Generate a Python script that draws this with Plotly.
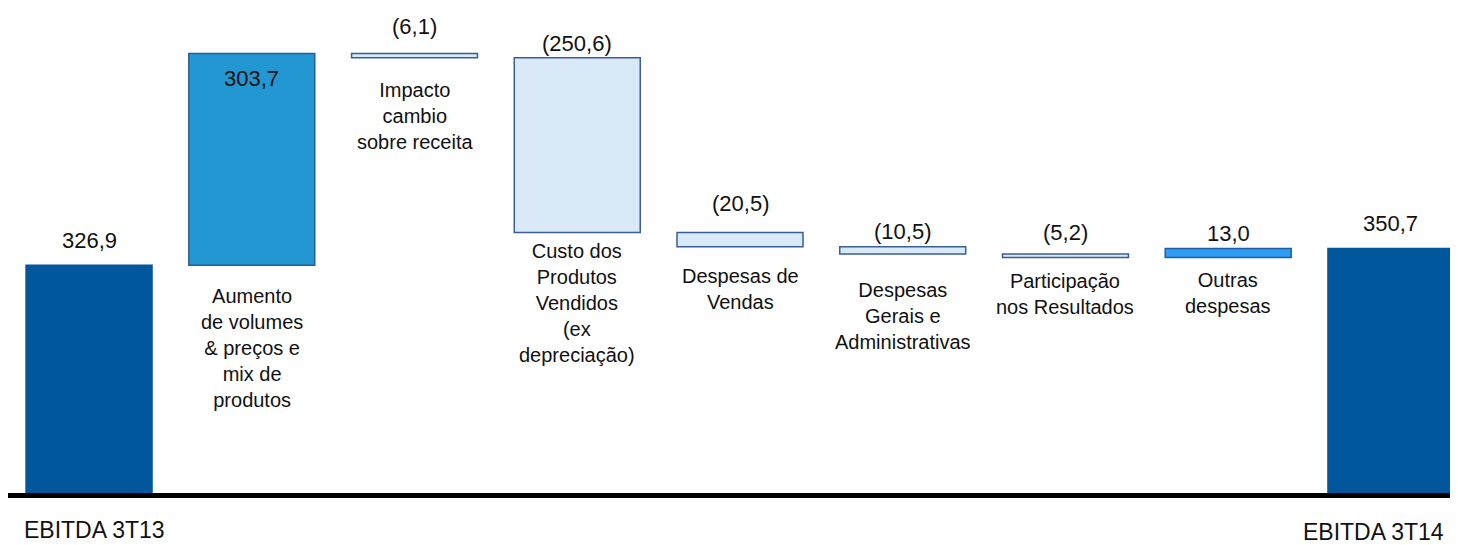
import plotly.graph_objects as go

# ---------------- data ----------------
categories = [
    "EBITDA 3T13",
    "Aumento<br>de volumes<br>& preços e<br>mix de<br>produtos",
    "Impacto<br>cambio<br>sobre receita",
    "Custo dos<br>Produtos<br>Vendidos<br>(ex<br>depreciação)",
    "Despesas de<br>Vendas",
    "Despesas<br>Gerais e<br>Administrativas",
    "Participação<br>nos Resultados",
    "Outras<br>despesas",
    "EBITDA 3T14",
]
values = [326.9, 303.7, -6.1, -250.6, -20.5, -10.5, -5.2, 13.0, 350.7]
measures = ["total", "relative", "relative", "relative", "relative",
            "relative", "relative", "relative", "total"]

# ---------------- styles ----------------
DARK = "#01579B"
bar_colors = [DARK, "#2397D2", "#DAE9F8", "#DAE9F8", "#DAE9F8",
              "#DAE9F8", "#DAE9F8", "#2E9CF3", DARK]
line_colors = [DARK, "#2B5C94", "#3A5F95", "#3A5F95", "#3A5F95",
               "#3A5F95", "#3A5F95", "#1F5FA0", DARK]
FONT = "Liberation Sans, Arial, sans-serif"

# value-label offsets (px) and category-label offsets (px)
val_shift = [10.3, -11, 12.8, 0, 14, 1, 6.6, 0.3, 10.3]
cat_shift = [-21.6, -18, -19, -5.6, -16, -23, -10.4, -9.4, -23.6]
cat_xshift = [5, 0, 0, 0, 0, 0, 0, 0, -17]


def fmt(v):
    s = f"{abs(v):.1f}".replace(".", ",")
    return f"({s})" if v < 0 else s


# ---------------- waterfall geometry from data ----------------
bases, heights, tops, bottoms = [], [], [], []
running = 0.0
for v, m in zip(values, measures):
    if m == "total":
        base, h = 0.0, v
        running = v
    else:
        if v >= 0:
            base, h = running, v
        else:
            base, h = running + v, -v
        running += v
    bases.append(base)
    heights.append(h)
    bottoms.append(base)
    tops.append(base + h)

x = list(range(len(categories)))

fig = go.Figure()
fig.add_trace(go.Bar(
    x=x, y=heights, base=bases, width=0.774,
    marker=dict(color=bar_colors, line=dict(color=line_colors, width=1.5)),
    hoverinfo="skip",
))

annotations = []
for i, (v, m) in enumerate(zip(values, measures)):
    # value labels
    annotations.append(dict(x=i, y=tops[i], xref="x", yref="y", text=fmt(v),
                            showarrow=False,
                            yanchor="top" if i == 1 else "bottom",
                            yshift=val_shift[i],
                            font=dict(family=FONT, size=22, color="#111")))
    # category labels
    if m == "total":
        annotations.append(dict(x=i, y=0, xref="x", yref="y", text=categories[i],
                                showarrow=False, yanchor="top", yshift=cat_shift[i],
                                xshift=cat_xshift[i],
                                font=dict(family=FONT, size=23, color="#111")))
    else:
        annotations.append(dict(x=i, y=bottoms[i], xref="x", yref="y", text=categories[i],
                                showarrow=False, yanchor="top", yshift=cat_shift[i],
                                align="center",
                                font=dict(family=FONT, size=20, color="#111")))

PLOT_H = 485
fig.update_layout(
    width=1450, height=545,
    margin=dict(l=0, r=0, t=0, b=60),
    paper_bgcolor="white", plot_bgcolor="white",
    showlegend=False,
    xaxis=dict(range=[-0.498, 8.412], visible=False, fixedrange=True),
    yaxis=dict(range=[0, 695.8], visible=False, fixedrange=True),
    annotations=annotations,
    shapes=[dict(type="rect", xref="paper", yref="paper", x0=0, x1=1,
                 y0=-5 / PLOT_H, y1=0, fillcolor="black", line=dict(width=0),
                 layer="above")],
)

fig.write_html("out.html")
